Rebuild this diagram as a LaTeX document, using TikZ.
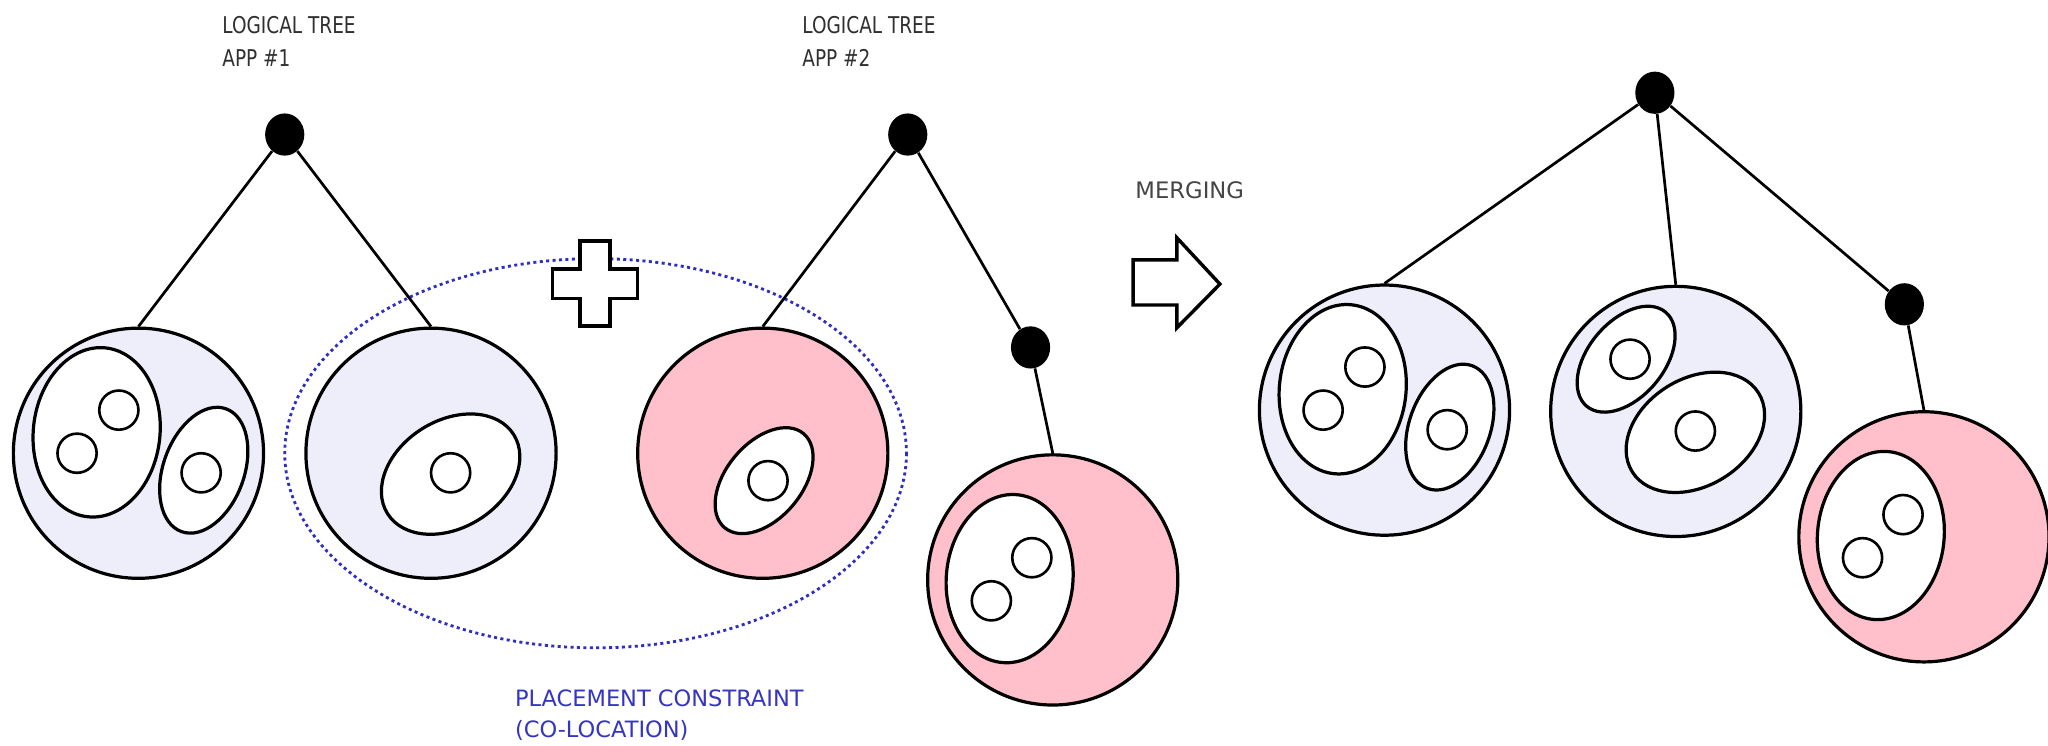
\documentclass[tikz,border=0pt]{standalone}
\usepackage{fontspec}
\usetikzlibrary{shapes.geometric}
\newfontfamily\lblfont{DejaVu Sans}
\newfontfamily\titlefont{DejaVu Sans}[FakeStretch=0.8]
\definecolor{lav}{HTML}{EEEEFA}
\definecolor{pnk}{HTML}{FFC0CB}
\definecolor{dotblue}{HTML}{2E2EC0}
\definecolor{txtgray}{HTML}{303030}
\definecolor{mergegray}{HTML}{454545}
\definecolor{pltxt}{HTML}{3535C4}
\begin{document}
\begin{tikzpicture}[x=0.65pt, y=-0.65pt,
  cell/.style={circle, draw=black, line width=1.6pt, inner sep=0pt, minimum size=124.5pt},
  lavcell/.style={cell, fill=lav},
  pinkcell/.style={cell, fill=pnk},
  knot/.style={ellipse, fill=black, inner sep=0pt, minimum width=19.5pt, minimum height=21pt},
  link/.style={line width=1.35pt},
  organelle/.style={draw=black, fill=white, line width=1.6pt},
  granule/.style={draw=black, fill=white, line width=1.3pt},
  txt/.style={inner sep=0pt, anchor=north west, align=left},
  block/.style={draw=black, fill=white, line width=1.7pt, line join=miter},
  pics/typeA/.style={code={
    \draw[organelle, rotate around={-6:(-32,-16)}] (-32,-16) ellipse [x radius=48.5, y radius=65];
    \draw[granule] (-15,-33) circle [radius=15];
    \draw[granule] (-47,0) circle [radius=15];
    \draw[organelle, rotate around={-20:(50,13)}] (50,13) ellipse [x radius=31, y radius=50];
    \draw[granule] (48,15) circle [radius=15];
  }},
  pics/typeB/.style={code={
    \draw[organelle, rotate around={-5:(-33,-1)}] (-33,-1) ellipse [x radius=48.5, y radius=64.5];
    \draw[granule] (-16,-17) circle [radius=15];
    \draw[granule] (-47,16) circle [radius=15];
  }},
  pics/bigegg/.style={code={
    \draw[organelle, rotate around={32:(0,0)}] (0,0) ellipse [x radius=57, y radius=41];
    \draw[granule] (0,-1) circle [radius=15];
  }},
  pics/smallegg/.style={code={
    \draw[organelle, rotate around={50:(0,0)}] (0,0) ellipse [x radius=47, y radius=29];
    \draw[granule] (3,0) circle [radius=15];
  }},
]
\useasboundingbox (0,0) rectangle (1568,570.4);
\fill[white] (0,0) rectangle (1568,570.4);

% placement constraint ellipse
\draw[dotblue, line width=1.4pt, dash pattern=on 1.5pt off 1.7pt] (456,347) ellipse [x radius=238, y radius=149];

% cells
\node[lavcell] (A1) at (106,347) {};
\node[lavcell] (A2) at (330,347) {};
\node[pinkcell] (B1) at (584,347) {};
\node[pinkcell] (B2) at (806,444) {};
\node[lavcell] (C1) at (1060,314) {};
\node[lavcell] (C2) at (1283,315) {};
\node[pinkcell] (C3) at (1473,411) {};

\pic at (A1.center) {typeA};
\pic at (345,363) {bigegg};
\pic at (585,368) {smallegg};
\pic at (B2.center) {typeB};
\pic at (C1.center) {typeA};
\pic at (1245,275) {smallegg};
\pic at (1298,331) {bigegg};
\pic at (C3.center) {typeB};

% tree nodes
\node[knot] (r1) at (218,103) {};
\node[knot] (r2) at (695,103) {};
\node[knot] (k2) at (789,266) {};
\node[knot] (r3) at (1267,71) {};
\node[knot] (k3) at (1458,233) {};

\draw[link] (r1) -- (A1.north);
\draw[link] (r1) -- (A2.north);
\draw[link] (r2) -- (B1.north);
\draw[link] (r2) -- (k2);
\draw[link] (k2) -- (B2.north);
\draw[link] (r3) -- (C1.north);
\draw[link] (r3) -- (C2.north);
\draw[link] (r3) -- (k3);
\draw[link] (k3) -- (C3.north);

% plus sign
\draw[block] (444,184.5) -- (467,184.5) -- (467,206) -- (488,206) -- (488,228.5) -- (467,228.5) -- (467,249.5) -- (444,249.5) -- (444,228.5) -- (423,228.5) -- (423,206) -- (444,206) -- cycle;

% merging arrow
\draw[block] (867.5,199) -- (901,199) -- (901,182) -- (934,217.5) -- (901,251) -- (901,233.5) -- (867.5,233.5) -- cycle;

% texts
\node[txt, text=txtgray, font=\titlefont\fontsize{11.5pt}{16.2pt}\selectfont] (t1) at (170,12.5) {LOGICAL TREE\\APP \#1};
\node[txt, text=txtgray, font=\titlefont\fontsize{11.5pt}{16.2pt}\selectfont] (t2) at (614,12.5) {LOGICAL TREE\\APP \#2};
\node[txt, text=mergegray, font=\lblfont\fontsize{11.3pt}{15.5pt}\selectfont] (t3) at (869,139) {MERGING};
\node[txt, text=pltxt, font=\lblfont\fontsize{11.2pt}{15.5pt}\selectfont] (t4) at (394,527.5) {PLACEMENT CONSTRAINT\\(CO-LOCATION)};
\end{tikzpicture}
\end{document}
